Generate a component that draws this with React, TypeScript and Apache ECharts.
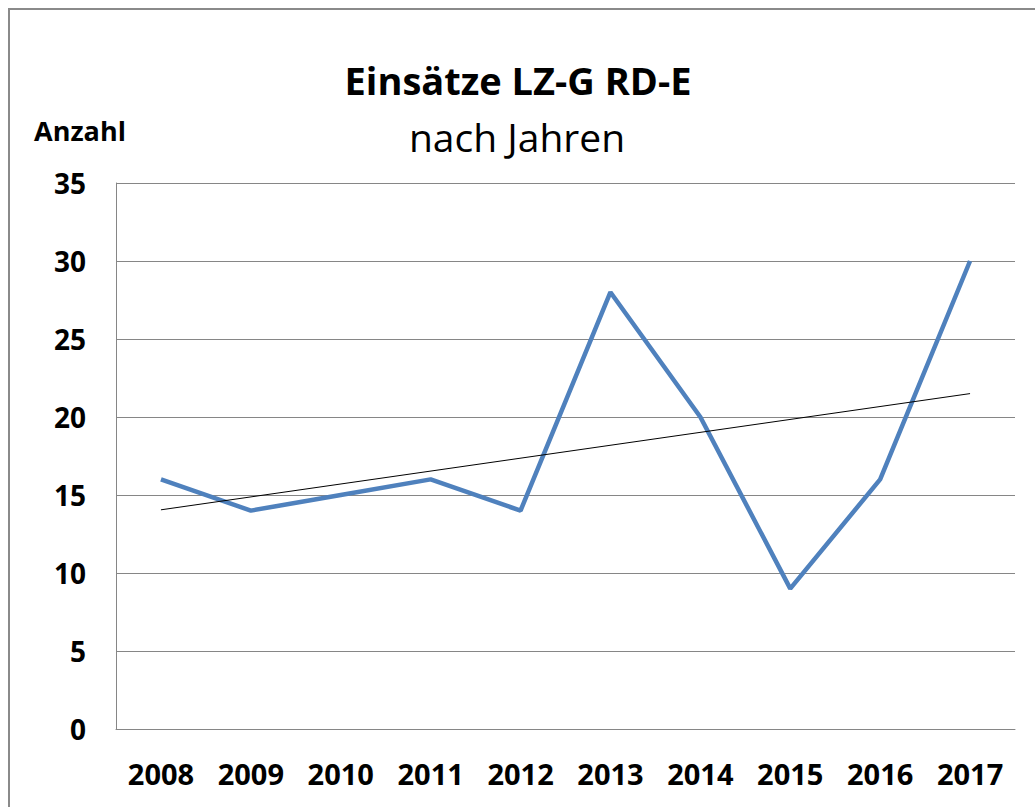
import React, { useEffect, useRef } from "react";
import * as echarts from "echarts";

const years = ["2008", "2009", "2010", "2011", "2012", "2013", "2014", "2015", "2016", "2017"];
const einsaetze = [16, 14, 15, 16, 14, 28, 20, 9, 16, 30];
// linear trend line endpoints
const trend = [14.05, null, null, null, null, null, null, null, null, 21.5];
const yTicks = { min: 0, max: 35, interval: 5 };

const titleText = "Einsätze LZ-G RD-E";
const subtitleText = "nach Jahren";
const yName = "Anzahl";

export default function App() {
  const ref = useRef<HTMLDivElement>(null);
  useEffect(() => {
    if (!ref.current) return;
    const chart = echarts.init(ref.current, null, { renderer: "svg" });
    const font = "'Open Sans', 'Noto Sans', sans-serif";
    chart.setOption({
      animation: false,
      backgroundColor: "#fff",
      textStyle: { fontFamily: font },
      grid: { left: 116, top: 183, right: 20, bottom: 78, containLabel: false },
      graphic: [
        {
          type: "rect",
          shape: { x: 9, y: 9, width: 1060, height: 840 },
          style: { fill: "none", stroke: "#8a8a8a", lineWidth: 2 },
          silent: true,
        },
        {
          type: "text",
          x: 518,
          y: 80,
          style: {
            text: titleText,
            fontFamily: font,
            fontSize: 38,
            fontWeight: "bold",
            fill: "#000",
            textAlign: "center",
            textVerticalAlign: "middle",
          },
        },
        {
          type: "text",
          x: 517,
          y: 136,
          style: {
            text: subtitleText,
            fontFamily: font,
            fontSize: 39,
            fill: "#000",
            textAlign: "center",
            textVerticalAlign: "middle",
          },
        },
        {
          type: "text",
          x: 80,
          y: 130,
          style: {
            text: yName,
            fontFamily: font,
            fontSize: 27,
            fontWeight: "bold",
            fill: "#000",
            textAlign: "center",
            textVerticalAlign: "middle",
          },
        },
      ],
      xAxis: {
        type: "category",
        data: years,
        boundaryGap: true,
        axisLine: { show: true, lineStyle: { color: "#868686", width: 1 } },
        axisTick: { show: false },
        axisLabel: {
          color: "#000",
          fontSize: 29,
          fontWeight: "bold",
          fontFamily: font,
          margin: 30,
          interval: 0,
        },
        splitLine: { show: false },
      },
      yAxis: {
        type: "value",
        min: yTicks.min,
        max: yTicks.max,
        interval: yTicks.interval,
        axisLine: { show: true, lineStyle: { color: "#868686", width: 1 } },
        axisTick: { show: false },
        axisLabel: {
          color: "#000",
          fontSize: 28,
          fontWeight: "bold",
          fontFamily: font,
          margin: 30,
        },
        splitLine: { show: true, lineStyle: { color: "#868686", width: 1 } },
      },
      series: [
        {
          type: "line",
          name: "Einsätze",
          data: einsaetze,
          symbol: "none",
          lineStyle: { color: "#4F81BD", width: 4.5 },
          z: 3,
        },
        {
          type: "line",
          name: "Trend",
          data: trend,
          connectNulls: true,
          symbol: "none",
          lineStyle: { color: "#000", width: 1 },
          z: 4,
        },
      ],
    });
    return () => chart.dispose();
  }, []);
  return (
    <div
      ref={ref}
      style={{ position: "absolute", left: 0, top: 0, width: 1035, height: 807 }}
    />
  );
}
